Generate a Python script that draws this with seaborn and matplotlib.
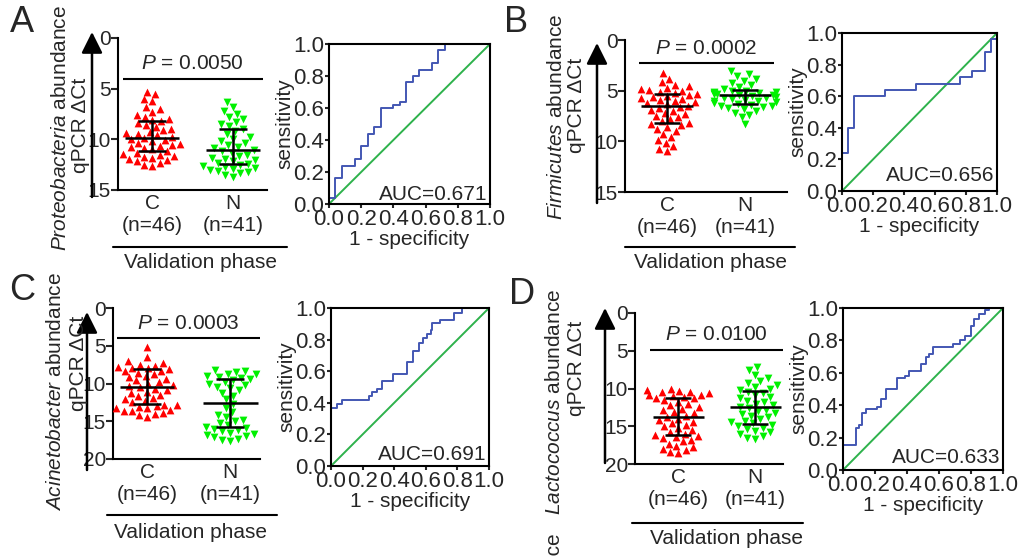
import numpy as np
import pandas as pd
import matplotlib
matplotlib.use("Agg")
import matplotlib.pyplot as plt
import seaborn as sns
from matplotlib.lines import Line2D
from matplotlib.patches import FancyArrowPatch

W, H = 1026, 557

# ---- values ----
groups = ["C\n(n=46)", "N\n(n=41)"]

prot_c = [5.3, 5.5, 6.0, 6.2, 6.8, 7.0, 7.3, 7.6, 7.8, 8.0, 8.1, 8.2,
          8.4, 8.6, 8.8, 9.0, 9.1, 9.3, 9.4, 9.5, 9.6, 9.8, 9.9,
          10.0, 10.1, 10.2, 10.4, 10.5, 10.6, 10.7, 10.8, 10.9, 11.0, 11.2,
          11.3, 11.4, 11.5, 11.6, 11.7, 11.8, 11.9, 12.0, 12.1, 12.3, 12.5, 12.6]
prot_n = [6.3, 6.8, 7.2, 7.5, 7.8, 8.0, 8.3, 8.5, 8.7, 9.0,
          9.2, 9.5, 9.8, 10.0, 10.2, 10.4, 10.6, 10.8, 10.9, 11.1,
          11.2, 11.3, 11.5, 11.6, 11.8, 11.9, 12.0, 12.1, 12.3, 12.4,
          12.5, 12.6, 12.7, 12.8, 12.9, 13.0, 13.1, 13.2, 13.3, 13.5, 13.7]
firm_c = [3.3, 3.8, 4.1, 4.4, 4.5, 4.7, 4.8, 4.9, 5.0, 5.1, 5.2, 5.3,
          5.4, 5.5, 5.6, 5.7, 5.8, 5.9, 6.0, 6.1, 6.2, 6.3, 6.5,
          6.6, 6.7, 6.9, 7.0, 7.2, 7.3, 7.5, 7.6, 7.8, 8.0, 8.2,
          8.3, 8.4, 8.6, 8.8, 9.0, 9.3, 9.6, 9.9, 10.2, 10.5, 10.8, 11.0]
firm_n = [3.1, 3.4, 3.6, 3.8, 4.0, 4.2, 4.4, 4.6, 4.8, 5.0,
          5.0, 5.1, 5.1, 5.2, 5.2, 5.3, 5.3, 5.4, 5.4, 5.5,
          5.6, 5.7, 5.7, 5.8, 5.9, 6.0, 6.0, 6.1, 6.2, 6.3,
          6.4, 6.5, 6.5, 6.6, 6.7, 6.8, 7.0, 7.2, 7.4, 7.6, 8.3]
acin_c = [5.2, 6.5, 7.0, 7.3, 7.5, 7.7, 7.8, 7.9, 8.0, 8.1, 8.3, 8.4,
          8.6, 8.8, 9.0, 9.2, 9.4, 9.6, 9.8, 10.0, 10.2, 10.3, 10.5,
          10.7, 10.9, 11.1, 11.3, 11.5, 11.7, 11.9, 12.1, 12.3, 12.5, 12.8,
          12.9, 13.0, 13.1, 13.2, 13.3, 13.5, 13.6, 13.7, 13.9, 14.0, 14.2, 14.4]
acin_n = [8.2, 8.4, 8.5, 8.7, 8.8, 9.0, 9.1, 9.3, 9.4, 9.6,
          9.8, 10.0, 10.2, 10.4, 10.6, 10.9, 11.2, 11.6, 12.1, 12.7,
          13.2, 13.8, 14.2, 14.5, 14.8, 15.0, 15.2, 15.5, 15.7, 15.9,
          16.0, 16.1, 16.3, 16.5, 16.7, 16.8, 17.0, 17.1, 17.3, 17.5, 17.6]
lact_c = [10.0, 10.2, 10.3, 10.4, 10.5, 10.6, 10.8, 10.9, 11.0, 11.1, 11.2, 11.3,
          11.5, 11.8, 12.0, 12.2, 12.5, 12.7, 12.9, 13.1, 13.3, 13.6, 13.8,
          14.0, 14.2, 14.4, 14.6, 14.8, 15.0, 15.2, 15.5, 15.7, 16.0, 16.2,
          16.3, 16.4, 16.6, 16.8, 17.0, 17.3, 17.6, 17.8, 18.0, 18.2, 18.4, 18.6]
lact_n = [7.2, 7.5, 8.2, 8.6, 9.0, 9.3, 9.6, 9.8, 10.0, 10.2,
          10.4, 10.6, 10.9, 11.1, 11.3, 11.6, 11.8, 12.0, 12.2, 12.4,
          12.6, 12.8, 13.0, 13.2, 13.4, 13.6, 13.8, 14.0, 14.3, 14.5,
          14.6, 14.8, 15.0, 15.2, 15.4, 15.6, 15.8, 16.0, 16.3, 16.5, 16.7]

# median, Q1, Q3 for C and N
prot_stats = [(9.9, 8.2, 11.2), (11.1, 9.0, 12.4)]
firm_stats = [(6.5, 5.3, 8.2), (5.4, 4.95, 6.3)]
acin_stats = [(10.4, 8.1, 12.7), (12.6, 9.45, 15.8)]
lact_stats = [(13.8, 11.3, 16.2), (12.5, 10.3, 14.7)]

p_values = ["0.0050", "0.0002", "0.0003", "0.0100"]
p_line_y = [4.0, 2.3, 4.0, 4.9]

# ROC corner points (steps: up, then right)
prot_fpr = [0, 0.04, 0.08, 0.16, 0.20, 0.24, 0.28, 0.32, 0.40, 0.44, 0.48, 0.52, 0.56, 0.64, 0.68, 0.72, 1.0]
prot_tpr = [0, 0.04, 0.16, 0.24, 0.28, 0.36, 0.44, 0.48, 0.60, 0.62, 0.64, 0.76, 0.80, 0.84, 0.88, 0.96, 1.0]
firm_fpr = [0, 0.04, 0.08, 0.28, 0.48, 0.76, 0.84, 0.92, 0.96, 1.0, 1.0]
firm_tpr = [0, 0.24, 0.40, 0.60, 0.64, 0.68, 0.72, 0.76, 0.88, 0.96, 1.0]
acin_fpr = [0, 0.04, 0.07, 0.24, 0.26, 0.29, 0.32, 0.39, 0.48, 0.52, 0.56, 0.58, 0.61, 0.63, 0.64, 0.69, 0.78, 0.83, 1.0]
acin_tpr = [0, 0.37, 0.39, 0.415, 0.44, 0.47, 0.49, 0.535, 0.585, 0.66, 0.73, 0.78, 0.81, 0.835, 0.86, 0.905, 0.925, 0.97, 1.0]
lact_fpr = [0, 0.08, 0.10, 0.12, 0.146, 0.21, 0.24, 0.27, 0.34, 0.385, 0.41, 0.49, 0.517, 0.54, 0.56,
            0.69, 0.73, 0.76, 0.80, 0.82, 0.85, 0.89, 0.91, 1.0]
lact_tpr = [0, 0.155, 0.26, 0.28, 0.35, 0.375, 0.39, 0.44, 0.50, 0.567, 0.58, 0.61, 0.655, 0.70, 0.715,
            0.76, 0.78, 0.80, 0.825, 0.89, 0.93, 0.96, 0.99, 1.0]
auc_labels = ["AUC=0.671", "AUC=0.656", "AUC=0.691", "AUC=0.633"]
diag = [0, 1]

genus = ["Proteobacteria", "Firmicutes", "Acinetobacter", "Lactococcus"]
letters = ["A", "B", "C", "D"]

RED = "#ff0000"
GREEN = "#00f000"
BLUE = "#4357b3"
DIAG = "#2eb24c"

sns.set_style("ticks")
plt.rcParams["font.family"] = ["Liberation Sans", "DejaVu Sans"]
plt.rcParams["mathtext.fontset"] = "custom"
plt.rcParams["mathtext.rm"] = "Liberation Sans"
plt.rcParams["mathtext.it"] = "Liberation Sans:italic"
plt.rcParams["axes.linewidth"] = 1.5
plt.rcParams["axes.edgecolor"] = "black"

FS = 15


def fbox(left, top, right, bottom):
    return [left / W, 1 - bottom / H, (right - left) / W, (bottom - top) / H]


def fpt(x, y):
    return (x / W, 1 - y / H)


fig = plt.figure(figsize=(W / 100, H / 100), dpi=100)

# layout, in pixels of the reference
scatter_box = [(118, 38, 267, 190), (625, 40, 787, 192), (113, 308, 260, 459), (635, 313, 783, 464)]
scatter_xlim = [(-0.42, 1.42), (-0.54, 1.54), (-0.41, 1.36), (-0.56, 1.36)]
ymax = [15, 15, 20, 20]
roc_box = [(329, 44, 490, 204), (842, 33, 997, 191), (331, 308, 489, 466), (843, 308, 1003, 470)]
auc_y = [0.06, 0.10, 0.07, 0.075]
letter_pos = [(22, 22), (516, 22), (22, 290), (522, 294)]
lab1_pos = [(60, 128), (556, 117), (56, 392), (554, 402)]
lab2_pos = [(80, 125), (577, 105), (78, 363), (577, 368)]
arrow_pos = [(92, 197, 32), (597, 203, 43), (87, 470, 312), (605, 463, 308)]
vline = [(113, 287, 247), (625, 795, 247), (107, 277, 515), (632, 803, 523)]
vtext = [(200, 263), (710, 263), (190, 533), (727, 538)]

data_c = [prot_c, firm_c, acin_c, lact_c]
data_n = [prot_n, firm_n, acin_n, lact_n]
stats = [prot_stats, firm_stats, acin_stats, lact_stats]
fprs = [prot_fpr, firm_fpr, acin_fpr, lact_fpr]
tprs = [prot_tpr, firm_tpr, acin_tpr, lact_tpr]

for i in range(4):
    # ---- scatter dot plot ----
    ax = fig.add_axes(fbox(*scatter_box[i]))
    df_c = pd.DataFrame({"grp": groups[0], "val": data_c[i]})
    df_n = pd.DataFrame({"grp": groups[1], "val": data_n[i]})
    sns.swarmplot(data=df_c, x="grp", y="val", order=groups, marker="^", color=RED,
                  size=5.6, linewidth=0, ax=ax, warn_thresh=1)
    sns.swarmplot(data=df_n, x="grp", y="val", order=groups, marker="v", color=GREEN,
                  size=5.6, linewidth=0, ax=ax, warn_thresh=1)
    for j, (med, q1, q3) in enumerate(stats[i]):
        ax.hlines(med, j - 0.33, j + 0.33, color="black", lw=1.8, zorder=5)
        ax.hlines([q1, q3], j - 0.17, j + 0.17, color="black", lw=1.8, zorder=5)
        ax.vlines(j, q1, q3, color="black", lw=1.8, zorder=5)
    ax.hlines(p_line_y[i], -0.36, 1.37, color="black", lw=1.5)
    ax.annotate(r"$\it{P}$ = " + p_values[i], xy=(0.5, p_line_y[i]), xytext=(0, 4),
                textcoords="offset points", ha="center", va="bottom", fontsize=FS)
    ax.set_xlim(*scatter_xlim[i])
    ax.set_ylim(ymax[i], 0)
    ax.set_yticks(np.arange(0, ymax[i] + 1, 5))
    ax.set_xlabel("")
    ax.set_ylabel("")
    ax.tick_params(axis="y", labelsize=FS, length=5, width=1.5, pad=0)
    ax.tick_params(axis="x", labelsize=FS, length=0, pad=3)
    sns.despine(ax=ax)

    # axis title, arrow, group bar
    x1, y1 = lab1_pos[i]
    fig.text(*fpt(x1, y1), r"$\it{" + genus[i] + "}$ abundance", rotation=90,
             ha="center", va="center", fontsize=FS)
    x2, y2 = lab2_pos[i]
    fig.text(*fpt(x2, y2), "qPCR ΔCt", rotation=90, ha="center", va="center", fontsize=FS)
    ax_, yb, yt = arrow_pos[i]
    fig.add_artist(FancyArrowPatch(fpt(ax_, yb), fpt(ax_, yt), transform=fig.transFigure,
                                   arrowstyle="-|>,head_length=0.8,head_width=0.4",
                                   mutation_scale=16, lw=1.8, color="black",
                                   shrinkA=0, shrinkB=0))
    xa, xb, yl = vline[i]
    fig.add_artist(Line2D([xa / W, xb / W], [1 - yl / H, 1 - yl / H], color="black", lw=1.5))
    fig.text(*fpt(*vtext[i]), "Validation phase", ha="center", va="center", fontsize=FS)
    fig.text(*fpt(*letter_pos[i]), letters[i], ha="center", va="center", fontsize=26)

    # ---- ROC curve ----
    rx = fig.add_axes(fbox(*roc_box[i]))
    sns.lineplot(x=diag, y=diag, color=DIAG, lw=1.4, ax=rx)
    sns.lineplot(x=fprs[i], y=tprs[i], sort=False, estimator=None, drawstyle="steps-pre",
                 color=BLUE, lw=1.4, ax=rx)
    rx.set_xlim(0, 1)
    rx.set_ylim(0, 1)
    ticks = [0, 0.2, 0.4, 0.6, 0.8, 1.0]
    rx.set_xticks(ticks)
    rx.set_yticks(ticks)
    rx.set_xticklabels([f"{t:.1f}" for t in ticks])
    rx.set_yticklabels([f"{t:.1f}" for t in ticks])
    rx.tick_params(labelsize=16, length=3, width=1.5, pad=0.5)
    rx.set_xlabel("1 - specificity", fontsize=FS, labelpad=0)
    rx.set_ylabel("sensitivity", fontsize=FS, labelpad=-1)
    rx.text(0.985, auc_y[i], auc_labels[i], transform=rx.transAxes, ha="right",
            va="center", fontsize=15)

# fragment of the next panel's axis title at the bottom edge
fig.text(*fpt(554, 532), "abundance", rotation=90, ha="center", va="top", fontsize=FS)

fig.savefig("out.png", dpi=100)
